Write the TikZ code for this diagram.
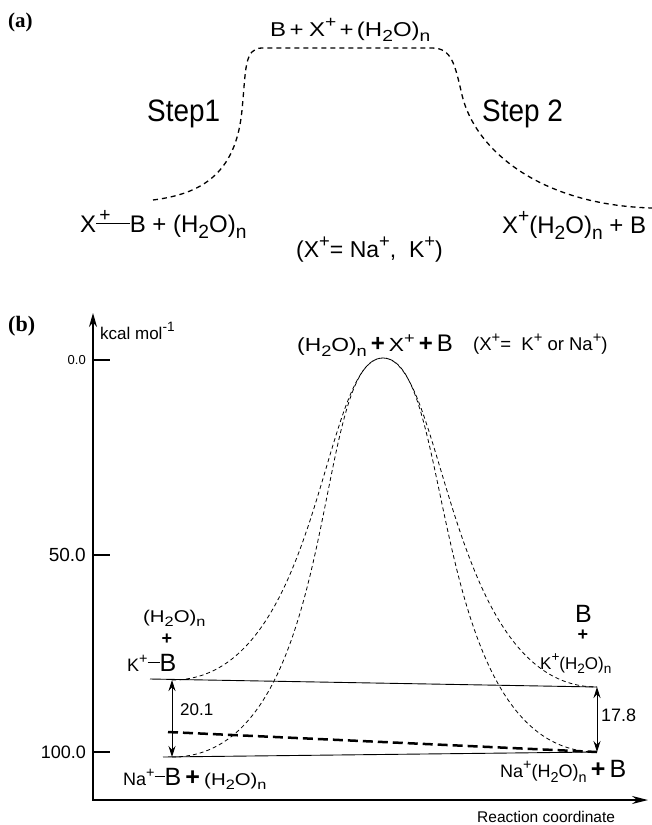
\documentclass[tikz,border=0pt]{standalone}
\usepackage{fontspec}
\setmainfont{Liberation Sans}
\newfontfamily\panelfont{Liberation Serif}
\newfontfamily\widesf[FakeStretch=1.2]{Liberation Sans}
\newfontfamily\narrowsf[FakeStretch=0.9]{Liberation Sans}
\usetikzlibrary{arrows.meta}
\newcommand{\cursz}{12}
\newcommand{\fsz}[1]{\fontsize{#1}{#1}\selectfont\renewcommand{\cursz}{#1}}
\newcommand{\dn}[1]{\raisebox{-0.28em}{\fontsize{\fpeval{0.8*\cursz}}{1}\selectfont #1}}
\newcommand{\up}[1]{\raisebox{0.42em}{\fontsize{\fpeval{0.8*\cursz}}{1}\selectfont #1}}
\newcommand{\bond}[1]{\rule[0.34em]{#1}{0.8pt}}
\tikzset{
    lbl/.style={inner sep=0pt, anchor=base west},
    pathway/.style={line width=1.3pt, dash pattern=on 5pt off 4pt},
    bell/.style={line width=0.8pt, dash pattern=on 4pt off 3pt},
    energyline/.style={line width=0.9pt},
    splitline/.style={line width=2.5pt, dash pattern=on 10pt off 5pt},
    axisline/.style={line width=1.6pt},
    gaparrow/.style={{Stealth[length=11pt,width=7pt]}-{Stealth[length=11pt,width=7pt]}, line width=1pt},
}

\begin{document}
\begin{tikzpicture}[x=1pt, y=-1pt]
    \useasboundingbox (0,0) rectangle (652,825);

    % (a) dissociation then hydration
    \node[lbl, font=\panelfont\bfseries\fsz{21}] (tagA) at (8,27) {(a)};
    \draw[pathway] (153,200) .. controls (200,194) and (236,175) .. (242,110)
        .. controls (246,70) and (244,48) .. (262,48) -- (432,48)
        .. controls (452,48) and (455,65) .. (462,95)
        .. controls (475,150) and (540,205) .. (652,208);
    \node[lbl, font=\widesf\fsz{20}] (freeA) at (270,36)
        {B\,+\;X\up{+}\,+\,(H\dn{2}O)\dn{n}};
    \node[lbl, font=\narrowsf\fsz{31}] (stepOne) at (147,121) {Step1};
    \node[lbl, font=\narrowsf\fsz{31}] (stepTwo) at (482,121) {Step 2};
    \node[lbl, font=\fsz{24}] (startA) at (80,232)
        {X\rlap{\up{\,+}}\bond{1.4em}B + (H\dn{2}O)\dn{n}};
    \node[lbl, font=\fsz{23}] (ionsA) at (296,257)
        {(X\up{+}= Na\up{+},\ \ K\up{+})};
    \node[lbl, font=\fsz{24}] (endA) at (502,233)
        {X\up{+}(H\dn{2}O)\dn{n} + B};

    % (b) energy profile
    \node[lbl, font=\panelfont\bfseries\fsz{22}] (tagB) at (8,331) {(b)};
    \coordinate (yEnd) at (93,313);
    \coordinate (origin) at (93,800);
    \coordinate (xEnd) at (648,800);
    \draw[axisline, {Stealth[length=14pt,width=8pt]}-{Stealth[length=16pt,width=8pt]}]
        (yEnd) -- (origin) -- (xEnd);
    \node[lbl, font=\fsz{17}] (unit) at (100,339) {kcal mol\up{-1}};
    \node[lbl, font=\fsz{15.5}] (coord) at (477,822) {Reaction coordinate};
    \foreach \val/\ypos/\fs [count=\i] in {0.0/360/13, 50.0/555/19, 100.0/752/18} {
        \draw[axisline] (93,\ypos) -- (110,\ypos);
        \node[anchor=east, inner sep=0pt, font=\fsz{\fs}] (tick\i) at (86,\ypos) {\val};
    }

    \coordinate (peak) at (383,358);
    \coordinate (kArr) at (172,680);
    \coordinate (naArr) at (172,757);
    \coordinate (kL) at (150,679);
    \coordinate (kR) at (597,687);
    \coordinate (naL) at (163,757);
    \coordinate (naR) at (597,752);
    \coordinate (splitL) at (168,732);

    \draw[energyline] (kL) -- (kR);
    \draw[energyline] (naL) -- (naR);
    \draw[bell] (kArr) .. controls +(150,0) and +(-62,0) .. (peak)
        .. controls +(62,0) and +(-150,0) .. (kR);
    \draw[bell] (naArr) .. controls +(170,0) and +(-72,0) .. (peak)
        .. controls +(72,0) and +(-170,0) .. (naR);
    \draw[splitline] (splitL) -- (naR);
    \draw[gaparrow] (kArr) -- (naArr);
    \draw[gaparrow] (kR) -- (naR);
    \node[lbl, font=\fsz{17}] (valK) at (180,715) {20.1};
    \node[lbl, font=\fsz{18}] (valNa) at (601,721) {17.8};

    \node[lbl] (freeB) at (297,351)
        {{\widesf\fsz{19}(H\dn{2}O)\dn{n}}{\fsz{24}\,\textbf{+}\,}{\widesf\fsz{19}X\up{+}}{\fsz{24}\,\textbf{+}\,B}};
    \node[lbl, font=\fsz{18.5}] (ionsB) at (473,350)
        {(X\up{+}=\ \ K\up{+} or Na\up{+})};

    \node[lbl, font=\widesf\fsz{17}] (waterK) at (143,622) {(H\dn{2}O)\dn{n}};
    \node[inner sep=0pt, font=\bfseries\fsz{18}] (plusK) at (167,639) {+};
    \node[lbl] (kBound) at (127,671)
        {{\fsz{18}K\up{+}}{\fsz{25}\bond{12pt}B}};
    \node[lbl] (naBound) at (123,785)
        {{\fsz{18}Na\up{+}}{\fsz{25}\bond{10pt}B\,\textbf{+}\,}{\widesf\fsz{17}(H\dn{2}O)\dn{n}}};

    \node[lbl, font=\fsz{25}] (bR) at (575,622) {B};
    \node[inner sep=0pt, font=\bfseries\fsz{18}] (plusR) at (583,635) {+};
    \node[lbl, font=\fsz{17}] (kHyd) at (540,669) {K\up{+}(H\dn{2}O)\dn{n}};
    \node[lbl] (naHyd) at (500,777)
        {{\fsz{18}Na\up{+}(H\dn{2}O)\dn{n}}{\fsz{25}\,\textbf{+}\,B}};
\end{tikzpicture}
\end{document}
